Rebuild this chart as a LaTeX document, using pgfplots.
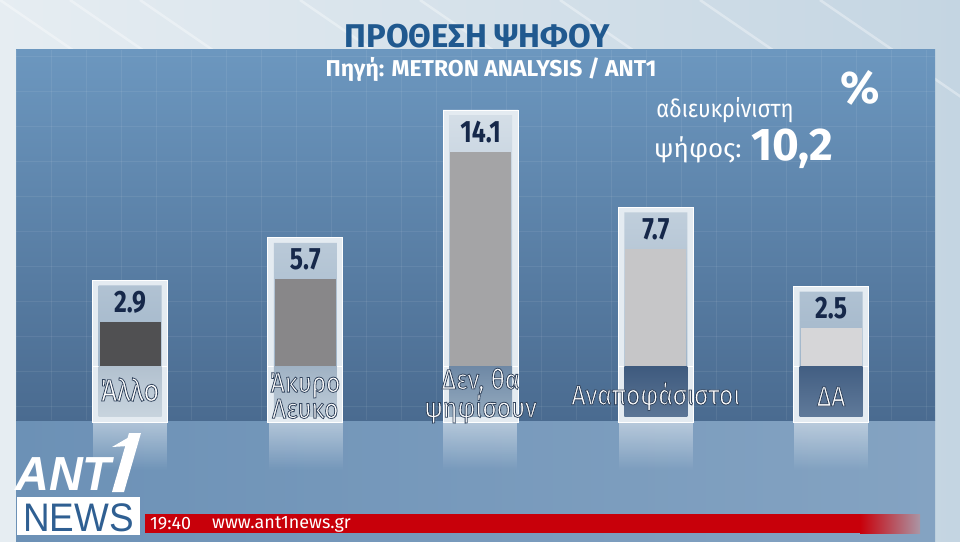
\documentclass[border=0pt]{standalone}
\usepackage{pgfplots}
\pgfplotsset{compat=1.18}
\usepackage{pgfplotstable}
\usetikzlibrary{fadings}
\usepackage{fontspec}
\setmainfont{Fira Sans}
\newfontfamily\cond[FakeStretch=0.80]{Fira Sans}
\newfontfamily\condc[FakeStretch=0.88]{Fira Sans}
\newfontfamily\plain{Fira Sans}
\newfontfamily\logofont{Liberation Sans}
\definecolor{panelTop}{HTML}{6C97BF}
\definecolor{panelBot}{HTML}{4A6B90}
\definecolor{navy}{HTML}{16284A}
\definecolor{titleblue}{HTML}{20598F}
\definecolor{tickred}{HTML}{C8000A}
\definecolor{tickend}{HTML}{AA96A5}
\definecolor{frameC}{HTML}{E4EBF1}
\definecolor{cA}{HTML}{505052}
\definecolor{cB}{HTML}{888789}
\definecolor{cC}{HTML}{A4A4A6}
\definecolor{cD}{HTML}{C6C6C8}
\definecolor{cE}{HTML}{D6D6D8}
\definecolor{logoblue}{HTML}{2F5F92}
\definecolor{bgL}{HTML}{E6EDF2}
\definecolor{bgR}{HTML}{C4D5E2}
\definecolor{refL}{HTML}{6C91B6}
\definecolor{refM}{HTML}{BAD0E1}
\definecolor{refR}{HTML}{84A3C2}
\definecolor{upT}{HTML}{D4DEE7}
\definecolor{upB}{HTML}{A0B5C9}
\definecolor{lzAt}{HTML}{B2C1CF}
\definecolor{lzAb}{HTML}{C8D4DE}
\definecolor{lzBt}{HTML}{A0B2C4}
\definecolor{lzBb}{HTML}{BECCD8}
\definecolor{lzCt}{HTML}{6E88A5}
\definecolor{lzCb}{HTML}{96ACC0}
\definecolor{lzDt}{HTML}{3E5A7E}
\definecolor{lzDb}{HTML}{5C7696}
\definecolor{lzEt}{HTML}{425E82}
\definecolor{lzEb}{HTML}{607A9A}

\pgfplotstableread{
x v
0 2.9
1 5.7
2 14.1
3 7.7
4 2.5
}\votes

% white text with a thin dark outline (fill + stroke text render mode)
\newcommand\outl{\special{pdf:literal direct 2 Tr 0.8 w 0.20 0.27 0.37 RG}}
\newcommand\outloff{\special{pdf:literal direct 0 Tr}}
\tikzset{catlab/.style={white, font=\condc\fontsize{28}{23}\selectfont, align=center, inner sep=0}}

\begin{document}
\begin{tikzpicture}
\begin{scope}[x=1bp,y=-1bp]
 % canvas
 \shade[left color=bgL, right color=bgR] (0,0) rectangle (960,542);
 \foreach \s in {0,70,140,300,420,560,700,820}{
   \draw[white, opacity=0.35, line width=2.5bp] (\s,0) -- (\s+160,110);
 }
 % lower reflection area
 \shade[left color=refL, middle color=refM, right color=refR] (16,420) rectangle (935,542);
 % panel
 \shade[top color=panelTop, bottom color=panelBot] (16,50) rectangle (935,420);
 \foreach \gx in {16,51,...,935}{ \draw[white, opacity=0.07, line width=0.8bp] (\gx,50) -- (\gx,420); }
 \foreach \gy in {56,91,...,420}{ \draw[white, opacity=0.07, line width=0.8bp] (16,\gy) -- (935,\gy); }
 % bar reflections
 \foreach \cx in {130,306,480,656,831}{
   \fill[white, opacity=0.45, path fading=south] (\cx-37,422) rectangle (\cx+37,470);
 }
 % title and texts
 \node[titleblue, font=\plain\bfseries\fontsize{33}{33}\selectfont, inner sep=0] at (477,36) {ΠΡΟΘΕΣΗ ΨΗΦΟΥ};
 \node[white, font=\plain\bfseries\fontsize{23}{23}\selectfont, inner sep=0] at (491,69) {Πηγή: METRON ANALYSIS / ANT1};
 \node[white, font=\plain\bfseries\fontsize{46}{46}\selectfont, inner sep=0] at (860,88) {\%};
 \node[white, font=\condc\fontsize{25}{25}\selectfont, inner sep=0] at (725,110) {αδιευκρίνιστη};
 \node[white, font=\plain\fontsize{26}{26}\selectfont, inner sep=0, anchor=base west] at (654,158) {ψήφος:};
 \node[white, font=\plain\bfseries\fontsize{46}{46}\selectfont, inner sep=0, anchor=base west] at (751,161) {10,2};
\end{scope}

\begin{axis}[at={(0bp,-542bp)}, anchor=south west, scale only axis,
  width=960bp, height=542bp,
  xmin=-0.7418, xmax=4.7354, ymin=-11.579, ymax=24.079,
  hide axis, clip=false, ybar,
  /pgf/number format/assume math mode=true]
 % frames
 \addplot[ybar, bar shift=0pt, bar width=75bp, fill=frameC, draw=white, line width=0.6bp] table[x=x, y expr=\thisrow{v}+2.75] {\votes};
 \addplot[ybar, bar shift=0pt, bar width=75bp, fill=frameC, draw=white, line width=0.6bp] table[x=x, y expr=-3.68] {\votes};
 % upper inner zones
 \addplot[ybar, bar shift=0pt, bar width=63bp, draw=none, top color=upT, bottom color=upB] table[x=x, y expr=\thisrow{v}+2.4] {\votes};
 % lower inner zones (label areas)
 \addplot[ybar, bar shift=0pt, bar width=63bp, draw=none, top color=lzAt, bottom color=lzAb] coordinates {(0,-3.35)};
 \addplot[ybar, bar shift=0pt, bar width=63bp, draw=none, top color=lzBt, bottom color=lzBb] coordinates {(1,-3.35)};
 \addplot[ybar, bar shift=0pt, bar width=63bp, draw=none, top color=lzCt, bottom color=lzCb] coordinates {(2,-3.35)};
 \addplot[ybar, bar shift=0pt, bar width=63bp, draw=none, top color=lzDt, bottom color=lzDb] coordinates {(3,-3.35)};
 \addplot[ybar, bar shift=0pt, bar width=63bp, draw=none, top color=lzEt, bottom color=lzEb] coordinates {(4,-3.35)};
 % data bars
 \pgfplotsset{every node near coord/.append style={anchor=center, yshift=20bp, navy, font=\cond\bfseries\fontsize{31}{31}\selectfont}}
 \addplot[ybar, bar shift=0pt, bar width=61bp, fill=cA, draw=none, nodes near coords] coordinates {(0,2.9)};
 \addplot[ybar, bar shift=0pt, bar width=61bp, fill=cB, draw=none, nodes near coords] coordinates {(1,5.7)};
 \addplot[ybar, bar shift=0pt, bar width=61bp, fill=cC, draw=none, nodes near coords] coordinates {(2,14.1)};
 \addplot[ybar, bar shift=0pt, bar width=61bp, fill=cD, draw=none, nodes near coords] coordinates {(3,7.7)};
 \addplot[ybar, bar shift=0pt, bar width=61bp, fill=cE, draw=none, nodes near coords] coordinates {(4,2.5)};
 % category labels
 \node[catlab] at (axis cs:0,-1.55) {\fontsize{31}{23}\selectfont\outl Άλλο\outloff};
 \node[catlab] at (axis cs:1,-1.95) {\outl Άκυρο\\\outl Λευκο\outloff};
 \node[catlab] at (axis cs:2,-1.95) {\outl Δεν, θα\\\outl ψηφίσουν\outloff};
 \node[catlab] at (axis cs:3,-2.0) {\outl Αναποφάσιστοι\outloff};
 \node[catlab] at (axis cs:4,-2.0) {\outl ΔΑ\outloff};
\end{axis}

\begin{scope}[x=1bp,y=-1bp]
 % ticker
 \fill[tickred] (145,514) rectangle (860,533);
 \shade[left color=tickred, right color=tickend] (860,514) rectangle (920,533);
 \node[white, font=\plain\fontsize{18}{18}\selectfont, inner sep=0, anchor=west] at (150,524) {19:40};
 \node[white, font=\plain\fontsize{18}{18}\selectfont, inner sep=0, anchor=west] at (212,524) {www.ant1news.gr};
 % logo
 \node[white, font=\logofont\bfseries\itshape\fontsize{48}{48}\selectfont, inner sep=0, text height=35bp, text depth=0pt, anchor=base west] at (15,490) {\scalebox{0.98}[1.0]{ANT}};
 \fill[white] (112,492) -- (124,492) -- (141,433) -- (129,433) -- cycle;
 \fill[white] (112,447) -- (131,436) -- (128,446) -- cycle;
 \fill[white] (17,497) rectangle (140,535);
 \node[logoblue, font=\logofont\fontsize{37}{37}\selectfont, inner sep=0, text height=26bp, text depth=0pt, anchor=base] at (78.5,531) {\scalebox{1.0}[1.08]{NEWS}};
 % fix bounding box to the frame
 \pgfresetboundingbox
 \useasboundingbox (0,0) rectangle (960,542);
\end{scope}
\end{tikzpicture}
\end{document}
